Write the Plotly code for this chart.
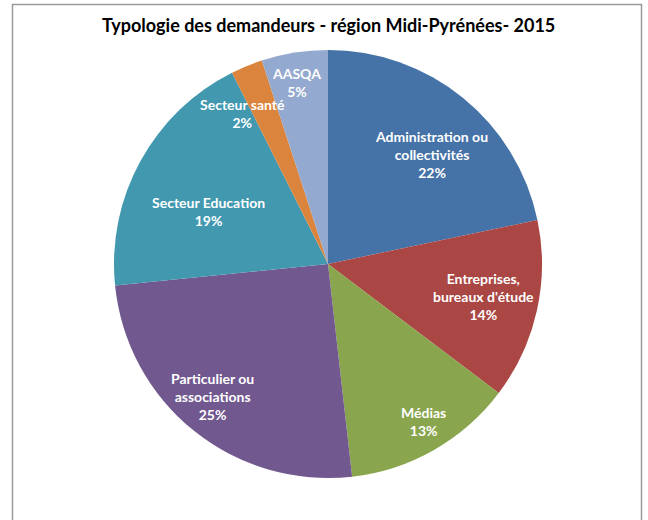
import math
import plotly.graph_objects as go

# ---- data ----
categories = [
    "Administration ou<br>collectivités",
    "Entreprises,<br>bureaux d'étude",
    "Médias",
    "Particulier ou<br>associations",
    "Secteur Education",
    "Secteur santé",
    "AASQA",
]
values = [21.7, 13.6, 12.9, 25.2, 19.2, 2.4, 5.0]
colors = ["#4572A7", "#AA4643", "#89A54E", "#71588F", "#4198AF", "#DB843D", "#93A9CF"]
title_text = "Typologie des demandeurs - région Midi-Pyrénées- 2015"

# ---- label placement (layout) ----
label_radius = [0.705, 0.74, 0.86, 0.82, 0.61, 0.81, 0.86]
label_angle_shift = [4.4, -0.9, -1.4, 2.1, -5.0, -7.4, -0.7]

W, H = 648, 520
cx, cy, R = 328, 264, 214

fig = go.Figure()
fig.add_trace(go.Pie(
    labels=categories,
    values=values,
    sort=False,
    direction="clockwise",
    rotation=0,
    marker=dict(colors=colors, line=dict(width=0)),
    textinfo="none",
    hoverinfo="label+percent",
    showlegend=False,
    domain=dict(x=[(cx - R) / W, (cx + R) / W], y=[1 - (cy + R) / H, 1 - (cy - R) / H]),
))

total = sum(values)
cum = 0.0
annotations = []
for i, (lab, v) in enumerate(zip(categories, values)):
    mid = (cum + v / 2) / total * 360 + label_angle_shift[i]
    cum += v
    th = math.radians(mid)
    px = cx + label_radius[i] * R * math.sin(th)
    py = cy - label_radius[i] * R * math.cos(th)
    pct = round(v / total * 100)
    annotations.append(dict(
        x=px / W, y=1 - py / H, xref="paper", yref="paper",
        text=f"{lab}<br>{pct}%", showarrow=False,
        font=dict(family="Lato", size=14, color="white", weight="bold"),
        align="center", xanchor="center", yanchor="middle",
    ))

annotations.append(dict(
    x=328 / W, y=1 - 25 / H, xref="paper", yref="paper",
    text=title_text, showarrow=False,
    font=dict(family="Lato", size=18, color="black", weight="bold"),
    xanchor="center", yanchor="middle",
))

fig.update_layout(
    width=W, height=H,
    margin=dict(l=0, r=0, t=0, b=0),
    paper_bgcolor="white", plot_bgcolor="white",
    annotations=annotations,
    shapes=[dict(type="rect", xref="paper", yref="paper",
                 x0=12.5 / W, x1=641.5 / W, y0=-0.05, y1=1 - 4.5 / H,
                 line=dict(color="#9A9A9A", width=1.5), fillcolor="rgba(0,0,0,0)", layer="below")],
)

fig.write_html("out.html", config={"displayModeBar": False},
               post_script="document.body.style.margin='0';document.body.style.overflow='hidden';")
